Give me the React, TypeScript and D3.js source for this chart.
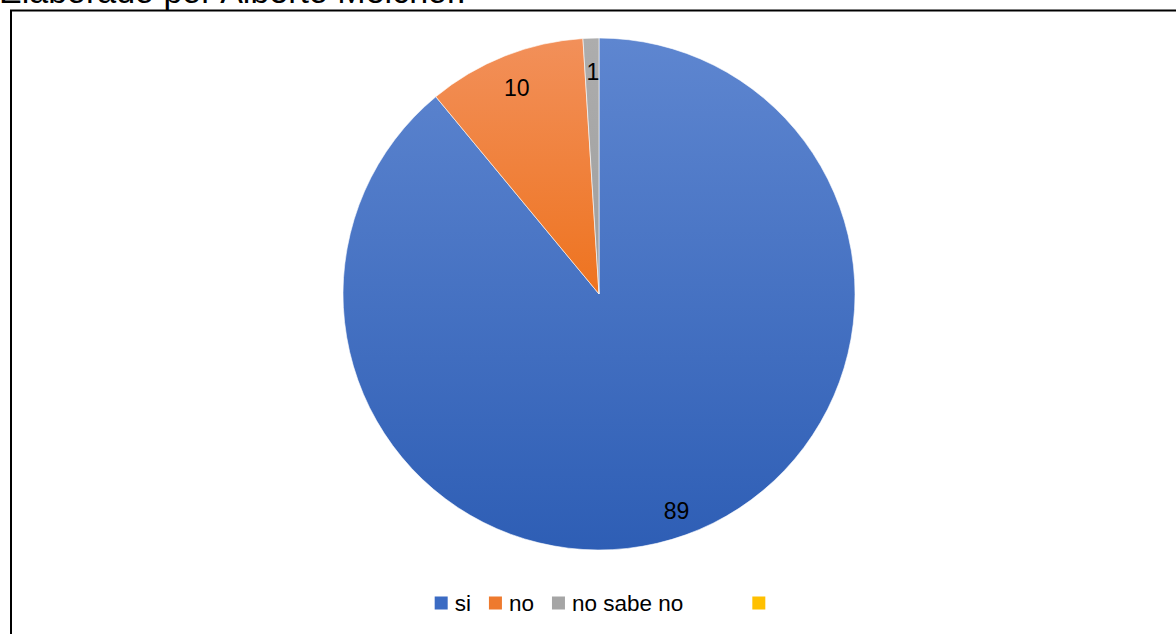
import React, { useEffect, useRef } from "react";
import * as d3 from "d3";

const categories = ["si", "no", "no sabe no", ""];
const values = [89, 10, 1, 0];
const gradTop = ["#5E86D0", "#F2905A", "#ADADAD", "#FFC61A"];
const gradBottom = ["#2E5EB5", "#EE731F", "#9E9E9E", "#E9B000"];
const legendFill = ["#3B6BC3", "#EE7A2E", "#A5A5A5", "#FFC000"];
const title = "Elaborado por Alberto Melchor.";

const W = 1176;
const H = 634;

export default function App() {
  const ref = useRef<SVGSVGElement | null>(null);

  useEffect(() => {
    const svg = d3.select(ref.current);
    svg.selectAll("*").remove();

    const defs = svg.append("defs");
    categories.forEach((_, i) => {
      const g = defs
        .append("linearGradient")
        .attr("id", `g${i}`)
        .attr("x1", 0)
        .attr("y1", 0)
        .attr("x2", 0)
        .attr("y2", 1);
      g.append("stop").attr("offset", "0%").attr("stop-color", gradTop[i]);
      g.append("stop").attr("offset", "100%").attr("stop-color", gradBottom[i]);
    });

    // title
    svg
      .append("text")
      .attr("x", -1)
      .attr("y", 3)
      .attr("font-family", "Liberation Sans, Arial, sans-serif")
      .attr("font-size", 34)
      .attr("fill", "#000")
      .text(title);

    // frame
    svg
      .append("rect")
      .attr("x", 11)
      .attr("y", 10.5)
      .attr("width", W + 20)
      .attr("height", H + 20)
      .attr("fill", "none")
      .attr("stroke", "#000")
      .attr("stroke-width", 2);

    const cx = 599;
    const cy = 294;
    const r = 256;

    const pie = d3
      .pie<number>()
      .sort(null)
      .value((d) => d);
    const arcs = pie(values);
    const arc = d3.arc<d3.PieArcDatum<number>>().innerRadius(0).outerRadius(r);
    const labelArc = d3
      .arc<d3.PieArcDatum<number>>()
      .innerRadius(226)
      .outerRadius(226);

    const g = svg.append("g").attr("transform", `translate(${cx},${cy})`);
    g.selectAll("path")
      .data(arcs.filter((a) => a.data > 0))
      .join("path")
      .attr("d", arc)
      .attr("fill", (d) => `url(#g${d.index})`)
      .attr("stroke", "#fff")
      .attr("stroke-width", 0.6);

    g.selectAll("text.lbl")
      .data(arcs.filter((a) => a.data > 0))
      .join("text")
      .attr("class", "lbl")
      .attr("transform", (d) => {
        const [x, y] = labelArc.centroid(d);
        return `translate(${x + 1},${y + 4})`;
      })
      .attr("text-anchor", "middle")
      .attr("dy", "0.35em")
      .attr("font-family", "Liberation Sans, Arial, sans-serif")
      .attr("font-size", 23)
      .attr("fill", "#000")
      .text((d) => String(d.data));

    // legend
    const lg = svg.append("g");
    const sq = 13;
    const fontSize = 22.5;
    let x = 0;
    const ly = 603;
    categories.forEach((c, i) => {
      lg.append("rect")
        .attr("x", x)
        .attr("y", ly - sq / 2)
        .attr("width", sq)
        .attr("height", sq)
        .attr("fill", legendFill[i]);
      const t = lg
        .append("text")
        .attr("x", x + sq + 7)
        .attr("y", ly)
        .attr("dy", "0.35em")
        .attr("font-family", "Liberation Sans, Arial, sans-serif")
        .attr("font-size", fontSize)
        .attr("fill", "#000")
        .text(c);
      const tw = (t.node() as SVGTextElement).getComputedTextLength();
      const w = c === "" ? sq : sq + 7 + tw;
      x += w + (i === 2 ? 69 : 18);
    });
    const total = x - 18;
    lg.attr("transform", `translate(${600 - total / 2},0)`);
  }, []);

  return (
    <svg
      ref={ref}
      width={W}
      height={H}
      style={{ position: "absolute", left: 0, top: 0, background: "#fff" }}
    />
  );
}
